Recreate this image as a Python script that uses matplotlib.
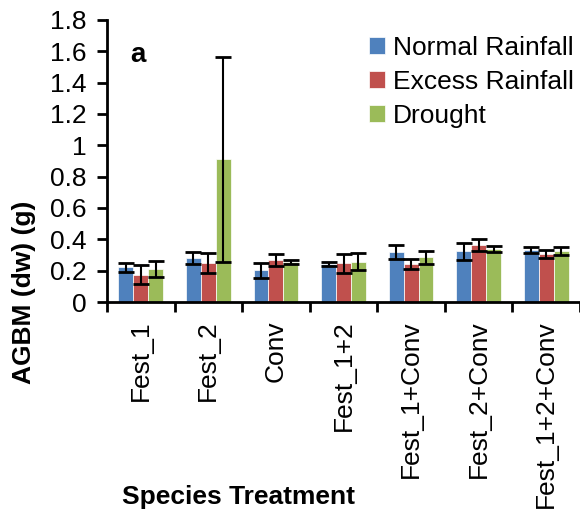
import numpy as np
import matplotlib
matplotlib.use('Agg')
from matplotlib import pyplot as plt
from matplotlib.ticker import FuncFormatter

plt.rcParams['font.family'] = ['Liberation Sans', 'DejaVu Sans']

# AGBM per species treatment, mean and error for each rainfall regime
treatments = ['Fest_1', 'Fest_2', 'Conv', 'Fest_1+2', 'Fest_1+Conv', 'Fest_2+Conv', 'Fest_1+2+Conv']
series = ['Normal Rainfall', 'Excess Rainfall', 'Drought']
normal = [0.222, 0.281, 0.202, 0.240, 0.320, 0.324, 0.332]
normal_err = [0.030, 0.038, 0.048, 0.013, 0.046, 0.055, 0.018]
excess = [0.175, 0.247, 0.266, 0.247, 0.245, 0.364, 0.307]
excess_err = [0.060, 0.064, 0.038, 0.060, 0.032, 0.040, 0.027]
drought = [0.211, 0.910, 0.255, 0.258, 0.285, 0.337, 0.326]
drought_err = [0.052, 0.655, 0.015, 0.053, 0.040, 0.020, 0.025]
colors = ['#4F81BD', '#C0504D', '#9BBB59']

W, H = 580, 513
fig = plt.figure(figsize=(W/100, H/100), dpi=100)
ax = fig.add_axes([107/W, 1 - 302/H, (W - 107)/W, (302 - 20)/H])

x = np.arange(len(treatments))
w = 0.22
for i, (vals, errs) in enumerate([(normal, normal_err), (excess, excess_err), (drought, drought_err)]):
    ax.bar(x + (i - 1)*w, vals, w, color=colors[i], edgecolor='white', linewidth=0.5,
           label=series[i], zorder=2)
    ax.errorbar(x + (i - 1)*w, vals, yerr=errs, fmt='none', ecolor='black',
                elinewidth=1.5, capsize=5.5, capthick=2, zorder=3)

ax.set_xlim(-0.5, len(treatments) - 0.5)
ax.set_ylim(0, 1.8)
ax.set_yticks(np.arange(0, 1.81, 0.2))
ax.yaxis.set_major_formatter(FuncFormatter(lambda v, p: ('%.1f' % v).rstrip('0').rstrip('.')))
# category boundaries carry the tick marks, names sit between them
ax.set_xticks(np.arange(-0.5, len(treatments), 1.0))
ax.set_xticklabels([])
ax.set_xticks(x, minor=True)
ax.set_xticklabels(treatments, minor=True, rotation=90, fontsize=19, va='top')
ax.tick_params(axis='x', which='minor', length=0, pad=13)
ax.tick_params(axis='x', which='major', direction='out', length=7, width=2)
ax.tick_params(axis='y', direction='out', length=7, width=2, labelsize=19, pad=8)

for s in ['top', 'right']:
    ax.spines[s].set_visible(False)
for s in ['left', 'bottom']:
    ax.spines[s].set_linewidth(2)

fig.text(138/W, 1 - 55/H, 'a', fontsize=20, fontweight='bold', ha='center', va='center')

fig.legend(loc='upper left', bbox_to_anchor=(369/W, 1 - 36/H), frameon=False, fontsize=19,
           handlelength=0.6, handleheight=0.6, handletextpad=0.3, labelspacing=0.38,
           borderpad=0, borderaxespad=0)

fig.text(239/W, 1 - 497/H, 'Species Treatment', fontsize=19, fontweight='bold',
         ha='center', va='center')
fig.text(24/W, 1 - 292/H, 'AGBM (dw) (g)', fontsize=19, fontweight='bold',
         ha='center', va='center', rotation=90)

fig.savefig('out.png', dpi=100)
